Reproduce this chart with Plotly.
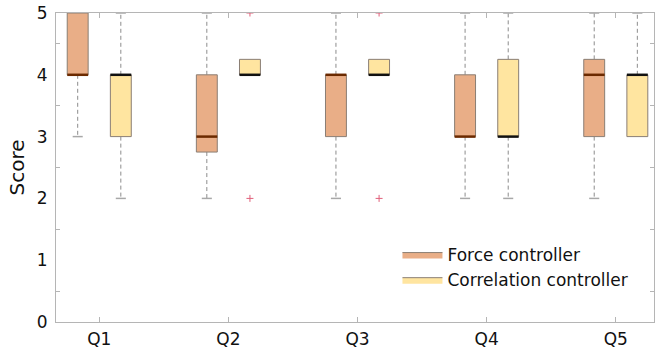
import plotly.graph_objects as go

categories = ["Q1", "Q2", "Q3", "Q4", "Q5"]

# Force controller box statistics
force_q1 = [4, 2.75, 3, 3, 3]
force_med = [4, 3, 4, 3, 4]
force_q3 = [5, 4, 4, 4, 4.25]
force_lo = [3, 2, 2, 2, 2]
force_hi = [5, 5, 5, 5, 5]
force_out = [[], [], [], [], []]

# Correlation controller box statistics
corr_q1 = [3, 4, 4, 3, 3]
corr_med = [4, 4, 4, 3, 4]
corr_q3 = [4, 4.25, 4.25, 4.25, 4]
corr_lo = [2, 4, 4, 2, 3]
corr_hi = [5, 4.25, 4.25, 5, 5]
corr_out = [[], [5, 2], [5, 2], [], []]

series = [
    dict(name="Force controller", q1=force_q1, med=force_med, q3=force_q3,
         lo=force_lo, hi=force_hi, out=force_out, offset=-0.167,
         fill="#E9AE87", medcol="#6B2A00"),
    dict(name="Correlation controller", q1=corr_q1, med=corr_med, q3=corr_q3,
         lo=corr_lo, hi=corr_hi, out=corr_out, offset=0.167,
         fill="#FFE5A0", medcol="#111111"),
]

HALF_W = 0.081
CAP_W = 0.039
EDGE = "#8A7E74"
WHISK = "#8C8C8C"
FONT = "DejaVu Sans, Arial, sans-serif"

fig = go.Figure()

for s in series:
    # whiskers (dashed) and caps
    wx, wy, cx, cy = [], [], [], []
    for i in range(len(categories)):
        xc = i + 1 + s["offset"]
        if s["hi"][i] > s["q3"][i]:
            wx += [xc, xc, None]; wy += [s["q3"][i], s["hi"][i], None]
            cx += [xc - CAP_W, xc + CAP_W, None]; cy += [s["hi"][i], s["hi"][i], None]
        if s["lo"][i] < s["q1"][i]:
            wx += [xc, xc, None]; wy += [s["q1"][i], s["lo"][i], None]
            cx += [xc - CAP_W, xc + CAP_W, None]; cy += [s["lo"][i], s["lo"][i], None]
    fig.add_trace(go.Scatter(x=wx, y=wy, mode="lines", showlegend=False,
                             line=dict(color=WHISK, width=1, dash="4px,3px"),
                             hoverinfo="skip"))
    fig.add_trace(go.Scatter(x=cx, y=cy, mode="lines", showlegend=False,
                             line=dict(color="#A8A8A8", width=1.5), hoverinfo="skip"))
    # boxes
    bx, by = [], []
    for i in range(len(categories)):
        xc = i + 1 + s["offset"]
        bx += [xc - HALF_W, xc + HALF_W, xc + HALF_W, xc - HALF_W, xc - HALF_W, None]
        by += [s["q1"][i], s["q1"][i], s["q3"][i], s["q3"][i], s["q1"][i], None]
    fig.add_trace(go.Scatter(x=bx, y=by, mode="lines", fill="toself",
                             fillcolor=s["fill"], name=s["name"],
                             line=dict(color=EDGE, width=1)))
    # medians
    mx, my = [], []
    for i in range(len(categories)):
        xc = i + 1 + s["offset"]
        mx += [xc - HALF_W, xc + HALF_W, None]
        my += [s["med"][i], s["med"][i], None]
    fig.add_trace(go.Scatter(x=mx, y=my, mode="lines", showlegend=False,
                             line=dict(color=s["medcol"], width=2.5), hoverinfo="skip"))
    # outliers
    ox, oy = [], []
    for i in range(len(categories)):
        for v in s["out"][i]:
            ox.append(i + 1 + s["offset"]); oy.append(v)
    if ox:
        fig.add_trace(go.Scatter(x=ox, y=oy, mode="markers", showlegend=False,
                                 marker=dict(symbol="cross-thin", size=5,
                                             line=dict(color="#E0607A", width=1))))

fig.update_layout(
    width=655, height=349,
    margin=dict(l=56, r=1, t=13, b=27, autoexpand=False),
    plot_bgcolor="white", paper_bgcolor="white",
    font=dict(family=FONT, size=17, color="#111111"),
    legend=dict(x=0.571, y=0.275, xanchor="left", yanchor="top",
                bgcolor="rgba(0,0,0,0)", font=dict(size=17, family=FONT),
                tracegroupgap=0, itemwidth=40),
    showlegend=True,
)
fig.update_xaxes(range=[0.665, 5.296], tickvals=[1, 2, 3, 4, 5], ticktext=categories,
                 showline=True, linecolor="#B5B5B5", linewidth=1, mirror="ticks",
                 ticks="inside", ticklen=5, tickcolor="#B5B5B5", showgrid=False,
                 zeroline=False, ticklabelstandoff=2)
fig.update_yaxes(range=[0, 5], dtick=1, title=dict(text="Score", standoff=6),
                 showline=True, linecolor="#B5B5B5", linewidth=1, mirror="ticks",
                 ticks="inside", ticklen=0, tickcolor="#B5B5B5", showgrid=False,
                 zeroline=False, ticklabelstandoff=4,
                 minor=dict(dtick=0.5, ticks="inside", ticklen=4, tickcolor="#B5B5B5"))

fig.write_html("out.html", config={"displayModeBar": False},
               post_script="document.body.style.margin='0';document.body.style.overflow='hidden';")
